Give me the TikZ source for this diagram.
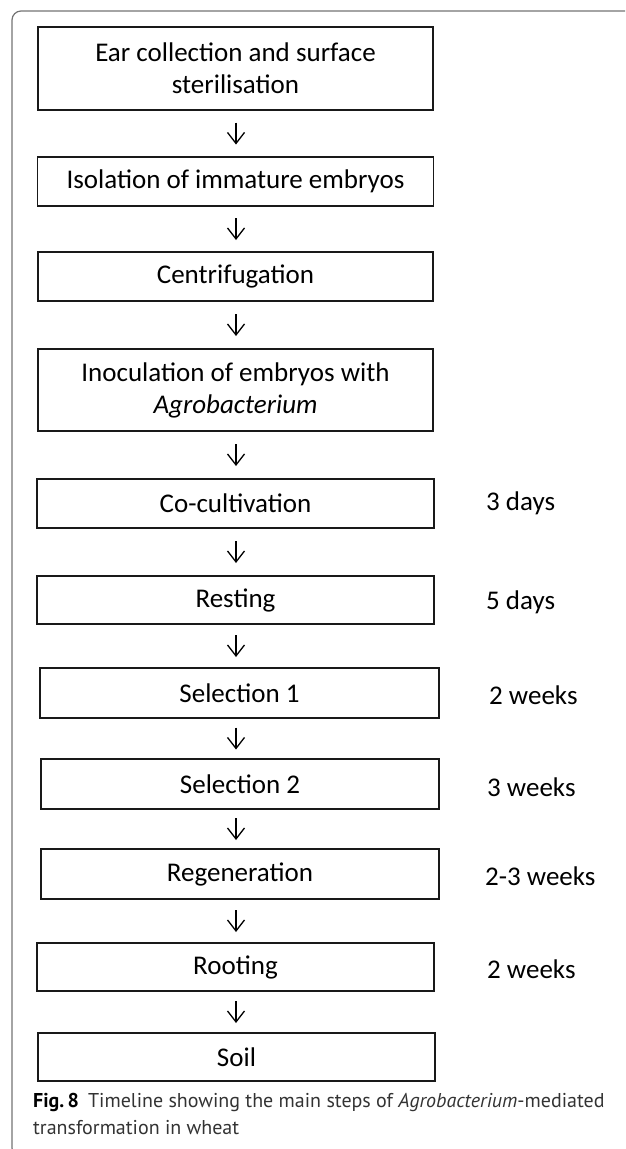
\documentclass[tikz,border=0pt]{standalone}
\usepackage{fontspec}
\setmainfont{Carlito}
\newfontfamily\capfont{PT Sans}
\usetikzlibrary{arrows.meta,calc}
\begin{document}
\begin{tikzpicture}[x=1pt,y=-1pt,
  box/.style={draw=black!90, line width=1.4pt, inner sep=0pt, align=center,
    font=\fontsize{27}{32}\selectfont},
  dur/.style={anchor=west, inner sep=0pt, font=\fontsize{27}{32}\selectfont},
  flow/.style={draw=black, line width=1.3pt,
    -{Straight Barb[length=11pt,width=17pt,line width=1.3pt]}},
  frame/.style={draw=black!55, line width=1.2pt, rounded corners=9pt}]
\useasboundingbox (0,0) rectangle (625,1149);
\begin{scope}
  \clip (0,0) rectangle (625,1149);
  \draw[frame] (12,11) rectangle (700,1157);
\end{scope}

\node[box, minimum width=395pt, minimum height=83pt] (b1) at (235.5,68.5) {Ear collection and surface\\sterilisation};
\node[box, minimum width=396pt, minimum height=49pt] (b2) at (235.5,181.5) {Isolation of immature embryos};
\node[box, minimum width=395pt, minimum height=49pt] (b3) at (235.5,276.5) {Centrifugation};
\node[box, minimum width=395pt, minimum height=82pt] (b4) at (235.5,390) {Inoculation of embryos with\\\textit{Agrobacterium}};
\node[box, minimum width=397pt, minimum height=49pt] (b5) at (235.5,503.5) {Co-cultivation};
\node[box, minimum width=397pt, minimum height=48pt] (b6) at (235.5,600) {Resting};
\node[box, minimum width=399pt, minimum height=50pt] (b7) at (239.5,693) {Selection 1};
\node[box, minimum width=398pt, minimum height=50pt] (b8) at (240,784) {Selection 2};
\node[box, minimum width=398pt, minimum height=50pt] (b9) at (240,874) {Regeneration};
\node[box, minimum width=397pt, minimum height=48pt] (b10) at (235.5,967) {Rooting};
\node[box, minimum width=397pt, minimum height=48pt] (b11) at (236.5,1057) {Soil};

\node[dur] (d5) at (486,503.5) {3 days};
\node[dur] (d6) at (486,602) {5 days};
\node[dur] (d7) at (489,695) {2 weeks};
\node[dur] (d8) at (487,787) {3 weeks};
\node[dur] (d9) at (485,876) {2-3 weeks};
\node[dur] (d10) at (487,969) {2 weeks};

\foreach \a/\b in {b1/b2,b2/b3,b3/b4,b4/b5,b5/b6,b6/b7,b7/b8,b8/b9,b9/b10,b10/b11}
  \draw[flow] let \p1=(\a.south), \p2=(\b.north) in
    (236pt,{(\y1+\y2)/2+11pt}) -- (236pt,{(\y1+\y2)/2-11pt});

\node[anchor=north west, inner sep=0pt, align=left, text=black!80,
  font=\capfont\fontsize{20}{27}\selectfont] (cap) at (33,1093)
  {\textcolor{black}{\textbf{Fig.\,8}}\hspace{0.45em}Timeline showing the main steps of \textit{Agrobacterium}-mediated\\transformation in wheat};
\end{tikzpicture}
\end{document}
